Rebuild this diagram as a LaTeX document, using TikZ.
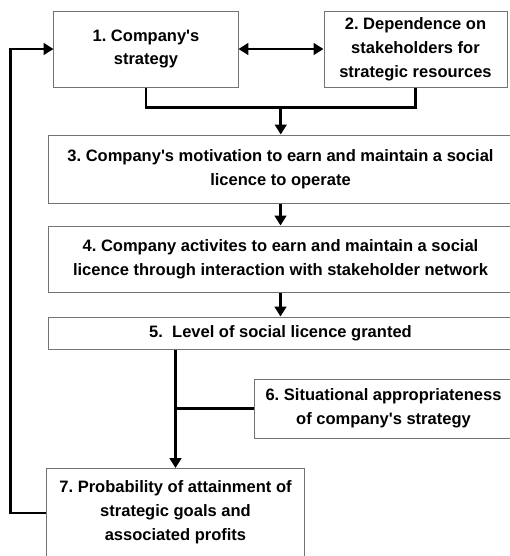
\documentclass[tikz,border=0pt]{standalone}
\usepackage{fontspec}
\setmainfont{Liberation Sans}
\usetikzlibrary{arrows.meta,positioning,calc}
\tikzset{
    slBox/.style={
        draw=black!55,
        line width=0.85pt,
        align=center,
        inner sep=0pt,
        font=\fontsize{14.1}{20.4}\selectfont\bfseries\frenchspacing
    },
    slArrow/.style={-{Triangle[length=8.5pt,width=10pt]},line width=2.5pt},
    slBoth/.style={{Triangle[length=8.5pt,width=10pt]}-{Triangle[length=8.5pt,width=10pt]},line width=2.5pt},
    slLine/.style={line width=2.5pt}
}
\begin{document}
\begin{tikzpicture}[x=0.03cm,y=-0.03cm]
        \useasboundingbox (0,0) rectangle (510,556);
        \clip (0,0) rectangle (510,556);

        \node[slBox,minimum width=5.52cm,minimum height=2.28cm] (s1) at (146,49)
            {1. Company\textquotesingle s\\strategy};
        \node[slBox,minimum width=5.49cm,minimum height=2.28cm] (s2) at (415.5,49)
            {2. Dependence on\\stakeholders for\\strategic resources};
        \node[slBox,minimum width=13.89cm,minimum height=2.04cm] (s3) at (280.5,169)
            {3. Company\textquotesingle s motivation to earn and maintain a social\\licence to operate};
        \node[slBox,minimum width=13.89cm,minimum height=1.98cm] (s4) at (280.5,259)
            {4. Company activites to earn and maintain a social\\licence through interaction with stakeholder network};
        \node[slBox,minimum width=13.89cm,minimum height=0.96cm] (s5) at (280.5,333)
            {5.\ \ Level of social licence granted};
        \node[slBox,minimum width=7.71cm,minimum height=1.77cm] (s6) at (383.5,408.5)
            {6. Situational appropriateness\\of company\textquotesingle s strategy};
        \node[slBox,minimum width=7.71cm,anchor=north,inner ysep=0.36cm,text depth=0.9cm] (s7) at (175.5,468)
            {7. Probability of attainment of\\strategic goals and\\associated profits};

        % strategy and dependence
        \draw[slBoth] (s1) -- (s2);
        \draw[slLine] (s1.south) -- ++(0,20) -| (s2.south);
        \coordinate (join) at ($(s1.south)!0.5!(s2.south)+(0,20)$);
        \draw[slArrow] (join) -- (join |- s3.north);
        \draw[slArrow] (s3) -- (s4);
        \draw[slArrow] (s4) -- (s5);

        % outcome
        \draw[slArrow] (s5.south -| s7.north) -- (s7.north);
        \draw[slLine] (s6.west) -- (s6.west -| s7.north);

        % feedback
        \draw[slArrow] ($(s7.north west)+(0,45)$) -- ++(-36,0) |- (s1.west);
    \end{tikzpicture}
\end{document}
